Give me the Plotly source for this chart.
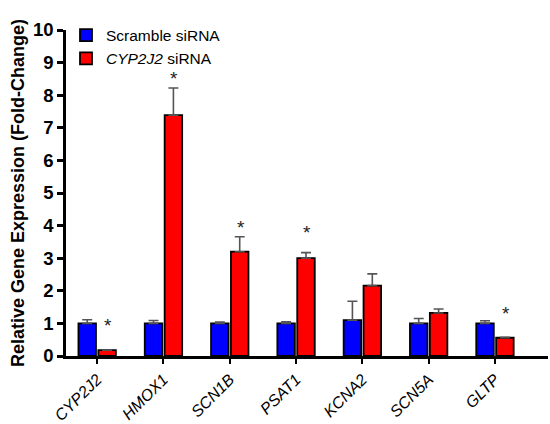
import plotly.graph_objects as go

genes = ["CYP2J2", "HMOX1", "SCN1B", "PSAT1", "KCNA2", "SCN5A", "GLTP"]
scramble = [1.0, 1.0, 1.0, 1.0, 1.1, 1.0, 1.0]
scramble_err = [0.11, 0.09, 0.04, 0.05, 0.58, 0.15, 0.08]
cyp = [0.18, 7.39, 3.2, 3.0, 2.16, 1.32, 0.56]
cyp_err = [0.0, 0.83, 0.46, 0.17, 0.36, 0.12, 0.01]
star_y = [0.95, 8.5, 3.95, 3.8, None, None, 1.3]

tick_labels = [f"<i>{g}</i>" for g in genes]

fig = go.Figure()
fig.add_trace(go.Bar(
    x=genes, y=scramble, name="Scramble siRNA",
    marker=dict(color="#0000ff", line=dict(color="black", width=1.8)),
    error_y=dict(type="data", array=scramble_err, arrayminus=[0]*7, symmetric=False,
                 color="#555555", thickness=1.6, width=5),
))
fig.add_trace(go.Bar(
    x=genes, y=cyp, name="<i>CYP2J2</i> siRNA",
    marker=dict(color="#ff0000", line=dict(color="black", width=1.8)),
    error_y=dict(type="data", array=cyp_err, arrayminus=[0]*7, symmetric=False,
                 color="#555555", thickness=1.6, width=5),
))

for g, s in zip(genes, star_y):
    if s is not None:
        fig.add_annotation(x=g, y=s, text="*", showarrow=False, xshift=11,
                           font=dict(size=19, color="#222222", family="Liberation Sans"))

fig.update_layout(
    width=550, height=424,
    margin=dict(l=66, r=2, t=30, b=68),
    plot_bgcolor="white", paper_bgcolor="white",
    barmode="group", bargap=0.4, bargroupgap=0.12,
    font=dict(family="Liberation Sans, Arial", color="black"),
    showlegend=True,
    legend=dict(x=0.0, y=1.035, xanchor="left", yanchor="top",
                font=dict(size=15.5), bgcolor="rgba(0,0,0,0)",
                itemwidth=30, tracegroupgap=0),
)
fig.update_yaxes(
    range=[0, 10], dtick=1, showgrid=False, zeroline=False, automargin=False,
    showline=True, linecolor="black", linewidth=2.5,
    ticks="outside", ticklen=6, tickwidth=2.5, tickcolor="black",
    tickfont=dict(size=18.5, family="Liberation Sans", color="black"),
    tickprefix="<b>", ticksuffix="</b>",
    title=dict(text="<b>Relative Gene Expression (Fold-Change)</b>",
               font=dict(size=18), standoff=4),
)
fig.update_xaxes(
    range=[-0.47, 6.8], showgrid=False, automargin=False,
    showline=True, linecolor="black", linewidth=2.5,
    ticks="outside", ticklen=5, tickwidth=2, tickcolor="black",
    tickangle=-45, tickfont=dict(size=16),
    tickmode="array", tickvals=genes, ticktext=tick_labels,
)

fig.write_html("out.html")
